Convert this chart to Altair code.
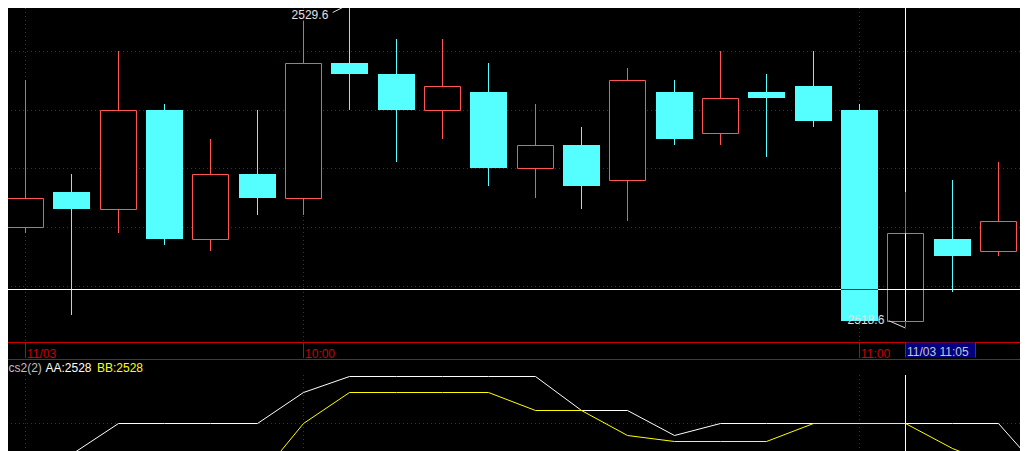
import altair as alt
import pandas as pd

# ---------------- data ----------------
OPEN = [2522.0, 2523.2, 2522.6, 2526.0, 2521.6, 2523.8, 2523.0, 2527.6, 2527.2, 2526.0, 2526.6,
        2524.0, 2524.8, 2523.6, 2526.6, 2525.2, 2526.6, 2526.8, 2526.0, 2518.8, 2521.6, 2521.2]
HIGH = [2527.0, 2523.8, 2528.0, 2526.2, 2525.0, 2526.0, 2529.0, 2529.6, 2528.4, 2528.4, 2527.6,
        2526.2, 2525.4, 2527.4, 2527.0, 2528.0, 2527.2, 2528.0, 2526.2, 2523.2, 2523.6, 2524.2]
LOW = [2521.8, 2519.0, 2521.8, 2521.4, 2521.2, 2522.4, 2522.4, 2526.0, 2524.2, 2525.0, 2523.4,
       2523.0, 2522.6, 2522.2, 2524.8, 2524.8, 2524.4, 2525.4, 2518.8, 2518.6, 2519.8, 2521.0]
CLOSE = [2523.0, 2522.6, 2526.0, 2521.6, 2523.8, 2523.0, 2527.6, 2527.2, 2526.0, 2526.8, 2524.0,
         2524.8, 2523.4, 2527.0, 2525.0, 2526.4, 2526.4, 2525.6, 2518.8, 2521.8, 2521.0, 2522.2]

# indicator cs2(2): AA (white) and BB (yellow); None = below the visible panel
AA = [None, 2527.0, 2528.0, 2528.0, 2528.0, 2528.0, 2529.0, 2529.5, 2529.5, 2529.5, 2529.5, 2529.5,
      2528.4, 2528.4, 2527.6, 2528.0, 2528.0, 2528.0, 2528.0, 2528.0, 2528.0, 2528.0, 2526.3]
BB = [None, None, None, None, None, 2526.2, 2528.0, 2529.0, 2529.0, 2529.0, 2529.0, 2528.4,
      2528.4, 2527.6, 2527.4, 2527.4, 2527.4, 2528.0, 2528.0, 2528.0, 2527.2, 2526.6, 2526.2]
IND_NAME = "cs2(2)"

GRID_PRICES = [2520, 2522, 2524, 2526, 2528]
IND_GRID = [2528]
TIME_IDX = [0, 6, 18]
TIME_TEXT = ["11/03", "10:00", "11:00"]
CROSS_IDX = 19
CROSS_PRICE = 2519.9
CROSS_TEXT = "11/03 11:05"

candles = pd.DataFrame({"idx": list(range(len(OPEN))), "open": OPEN, "high": HIGH,
                        "low": LOW, "close": CLOSE})
ind = pd.DataFrame({"idx": list(range(len(AA))), "AA": AA, "BB": BB})
times = pd.DataFrame({"idx": TIME_IDX, "label": TIME_TEXT})
grid = pd.DataFrame({"p": GRID_PRICES})
igrid = pd.DataFrame({"v": IND_GRID})
cross = pd.DataFrame({"idx": [CROSS_IDX], "price": [CROSS_PRICE], "label": [CROSS_TEXT]})
name_df = pd.DataFrame({"name": [IND_NAME]})
one = pd.DataFrame({"k": [0]})

# ---------------- styling / layout ----------------
W, H = 1012, 443
RED = "#ff5555"
CYAN = "#55ffff"
GRID = "#b40000"
BAND = "#cc0000"
NAVY = "#000080"
XOR_UP = "#00aaaa"
XOR_DN = "#aa0000"
ANNOT = "#e0e0e0"
FONT = "Liberation Sans"
HP = 0.5  # half-pixel shift so 1px strokes land on pixel centres

MAIN_BOTTOM = 334
BAND_TOP = 334.5
BAND_BOTTOM = 351.5
TICK_END = 350
TEXT_BASE = 349.5
BOX_BOTTOM = 349.5
BOX_TEXT_BASE = 347.7
HEAD_BASE = 364.3
IND_TOP = 367

xs = alt.Scale(domain=[-0.25636, 21.36296], zero=False, nice=False, round=True)
ps = alt.Scale(domain=[2514.3762, 2529.4570], zero=False, nice=False, round=True)
iscale = alt.Scale(domain=[2527.0935, 2541.3839], zero=False, nice=False, round=True)

X = alt.X("idx:Q", scale=xs, axis=None)


def PY(f):
    return alt.Y(f, scale=ps, axis=None)


def IY(f):
    return alt.Y(f, scale=iscale, axis=None)


DIRCOLOR = alt.condition("datum.dir == 'up'", alt.value(RED), alt.value(CYAN))
XORCOLOR = alt.condition("datum.dir == 'up'", alt.value(XOR_UP), alt.value(XOR_DN))

base = alt.Chart(candles).transform_calculate(
    dir="datum.close > datum.open ? 'up' : 'down'",
    top="max(datum.open, datum.close)",
    bot="min(datum.open, datum.close)",
)

dotted = dict(color=GRID, strokeDash=[1, 3], strokeWidth=1)

grid_h = alt.Chart(grid).mark_rule(yOffset=HP, **dotted).encode(y=PY("p:Q"))
grid_v = alt.Chart(times).mark_rule(xOffset=HP, **dotted).encode(
    x=X, y=alt.value(0), y2=alt.value(MAIN_BOTTOM))
igrid_h = alt.Chart(igrid).mark_rule(yOffset=HP, **dotted).encode(y=IY("v:Q"))
igrid_v = alt.Chart(times).mark_rule(xOffset=HP, **dotted).encode(
    x=X, y=alt.value(IND_TOP), y2=alt.value(H))

wick_up = base.mark_rule(strokeWidth=1, xOffset=HP).encode(
    x=X, y=PY("high:Q"), y2=alt.Y2("top"), color=DIRCOLOR)
wick_dn = base.mark_rule(strokeWidth=1, xOffset=HP).encode(
    x=X, y=PY("bot:Q"), y2=alt.Y2("low"), color=DIRCOLOR)

body_dn = base.transform_filter("datum.dir == 'down'").mark_bar(
    size=37, color=CYAN, xOffset=HP).encode(x=X, y=PY("open:Q"), y2=alt.Y2("close"))
body_up = base.transform_filter("datum.dir == 'up'").mark_bar(
    size=36, fill="#000000", stroke=RED, strokeWidth=1, xOffset=HP, yOffset=HP, y2Offset=HP).encode(
    x=X, y=PY("open:Q"), y2=alt.Y2("close"))

cross_h = alt.Chart(cross).mark_rule(color="#ffffff", strokeWidth=1, yOffset=HP).encode(y=PY("price:Q"))
cross_v = base.transform_joinaggregate(hi="max(high)", lo="min(low)").transform_filter(
    f"datum.idx == {CROSS_IDX}").mark_rule(color="#ffffff", strokeWidth=1, xOffset=HP).encode(
    x=X, y=PY("hi:Q"), y2=alt.Y2("lo"))

xbase = base.transform_filter(f"datum.idx == {CROSS_IDX}")
xor_wick_up = xbase.mark_rule(strokeWidth=1, xOffset=HP).encode(
    x=X, y=PY("high:Q"), y2=alt.Y2("top"), color=XORCOLOR)
xor_wick_dn = xbase.mark_rule(strokeWidth=1, xOffset=HP).encode(
    x=X, y=PY("bot:Q"), y2=alt.Y2("low"), color=XORCOLOR)
xor_body = base.transform_filter(
    f"datum.dir == 'down' && datum.bot <= {CROSS_PRICE} && datum.top >= {CROSS_PRICE}"
).transform_calculate(cp=str(CROSS_PRICE)).mark_rule(
    color=XOR_DN, strokeWidth=1, xOffset=-18, x2Offset=19, yOffset=HP, y2Offset=HP).encode(
    x=X, x2=alt.X2("idx"), y=PY("cp:Q"))

line_aa = alt.Chart(ind).mark_line(color="#ffffff", strokeWidth=1, clip=True,
                                   xOffset=HP, yOffset=HP).encode(x=X, y=IY("AA:Q"))
line_bb = alt.Chart(ind).mark_line(color="#ffff00", strokeWidth=1, clip=True,
                                   xOffset=HP, yOffset=HP).encode(x=X, y=IY("BB:Q"))
ind_cross = alt.Chart(cross).mark_rule(color="#ffffff", strokeWidth=1, xOffset=HP).encode(
    x=X, y=alt.value(IND_TOP), y2=alt.value(H))

# time band
band_top = alt.Chart(one).mark_rule(color=BAND, strokeWidth=1).encode(y=alt.value(BAND_TOP))
band_bot = alt.Chart(one).mark_rule(color=BAND, strokeWidth=1).encode(y=alt.value(BAND_BOTTOM))
ticks = alt.Chart(times).mark_rule(color=BAND, strokeWidth=1, xOffset=HP).encode(
    x=X, y=alt.value(BAND_TOP), y2=alt.value(TICK_END))
tlabels = alt.Chart(times).mark_text(
    align="left", baseline="alphabetic", dx=2, color=BAND, font=FONT, fontSize=12).encode(
    x=X, y=alt.value(TEXT_BASE), text="label:N")
box = alt.Chart(cross).mark_rect(color=NAVY, xOffset=1, x2Offset=70).encode(
    x=X, x2=alt.X2("idx"), y=alt.value(BAND_TOP), y2=alt.value(BOX_BOTTOM))
box_l = alt.Chart(cross).mark_rule(color=BAND, strokeWidth=1, xOffset=HP).encode(
    x=X, y=alt.value(BAND_TOP), y2=alt.value(BOX_BOTTOM))
box_r = alt.Chart(cross).mark_rule(color=BAND, strokeWidth=1, xOffset=70.5).encode(
    x=X, y=alt.value(BAND_TOP), y2=alt.value(BOX_BOTTOM))
box_text = alt.Chart(cross).mark_text(
    align="left", baseline="alphabetic", dx=2, color="#c8c8c8", font=FONT, fontSize=12).encode(
    x=X, y=alt.value(BOX_TEXT_BASE), text="label:N")

# indicator header
head_name = alt.Chart(name_df).mark_text(
    align="left", baseline="alphabetic", color="#c0c0c0", font=FONT, fontSize=12).encode(
    x=alt.value(0.5), y=alt.value(HEAD_BASE), text="name:N")
ind_at = alt.Chart(ind).transform_filter(f"datum.idx == {CROSS_IDX}").transform_calculate(
    la="'AA:' + format(datum.AA, '.0f')", lb="'BB:' + format(datum.BB, '.0f')")
head_aa = ind_at.mark_text(align="left", baseline="alphabetic", color="#ffffff", font=FONT,
                           fontSize=12).encode(x=alt.value(37.5), y=alt.value(HEAD_BASE), text="la:N")
head_bb = ind_at.mark_text(align="left", baseline="alphabetic", color="#ffff00", font=FONT,
                           fontSize=12).encode(x=alt.value(89), y=alt.value(HEAD_BASE), text="lb:N")

# high / low annotations
hi_df = base.transform_joinaggregate(hi="max(high)").transform_filter("datum.high == datum.hi")
lo_df = base.transform_joinaggregate(lo="min(low)").transform_filter("datum.low == datum.lo")
hi_text = hi_df.mark_text(align="right", baseline="alphabetic", dx=-20.7, dy=15, color=ANNOT,
                          font=FONT, fontSize=12).encode(
    x=X, y=PY("high:Q"), text=alt.Text("high:Q", format=".1f"))
hi_lead = hi_df.mark_rule(color=ANNOT, strokeWidth=1, xOffset=HP, x2Offset=-16.3,
                          y2Offset=8.5).encode(
    x=X, x2=alt.X2("idx"), y=PY("high:Q"), y2=alt.Y2("high"))
lo_text = lo_df.mark_text(align="right", baseline="alphabetic", dx=-20.7, dy=-2.7, color=ANNOT,
                          font=FONT, fontSize=12).encode(
    x=X, y=PY("low:Q"), text=alt.Text("low:Q", format=".1f"))
lo_lead = lo_df.mark_rule(color=ANNOT, strokeWidth=1, xOffset=HP, yOffset=1, x2Offset=-16.3,
                          y2Offset=-6.3).encode(
    x=X, x2=alt.X2("idx"), y=PY("low:Q"), y2=alt.Y2("low"))

chart = alt.layer(
    grid_h, grid_v, igrid_h, igrid_v,
    wick_up, wick_dn, body_dn, body_up,
    cross_h, cross_v, xor_wick_up, xor_wick_dn, xor_body,
    line_aa, line_bb, ind_cross,
    band_top, band_bot, ticks, tlabels, box, box_l, box_r, box_text,
    head_name, head_aa, head_bb,
    hi_lead, hi_text, lo_lead, lo_text,
).resolve_scale(y="independent").properties(
    width=W, height=H, padding=0, autosize=alt.AutoSizeParams(type="none")
).configure(background="#000000").configure_view(strokeWidth=0)

chart.save("out.html", embed_options={"renderer": "svg", "actions": False})
